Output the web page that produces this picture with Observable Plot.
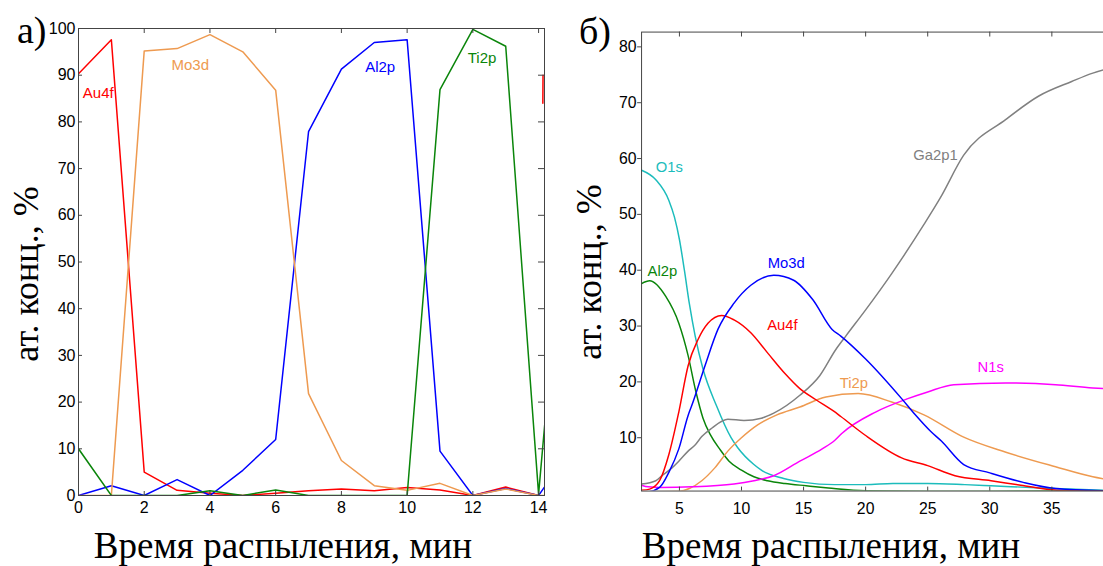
<!DOCTYPE html>
<html>
<head>
<meta charset="utf-8">
<script src="https://cdn.jsdelivr.net/npm/d3@7"></script>
<script src="https://cdn.jsdelivr.net/npm/@observablehq/plot@0.6"></script>
<style>
html, body { margin: 0; padding: 0; background: #fff; }
body { width: 1103px; height: 566px; overflow: hidden; position: relative; }
.abs { position: absolute; }
.serif { font-family: "Liberation Serif", "Times New Roman", serif; color: #000; white-space: nowrap; line-height: 1; }
.ylab { font-size: 36px; transform: translate(-50%, -50%) rotate(-90deg); }
.xlab { font-size: 37px; transform: translateX(-50%); }
.panel { font-size: 38px; }
</style>
</head>
<body>
<div id="pa" class="abs" style="left:0;top:0"></div>
<div id="pb" class="abs" style="left:570px;top:0"></div>
<div class="abs serif panel" style="left:17px;top:11px">а)</div>
<div class="abs serif panel" style="left:579px;top:12px">б)</div>
<div class="abs serif ylab" style="left:26px;top:274px">ат. конц., %</div>
<div class="abs serif ylab" style="left:589px;top:272px">ат. конц., %</div>
<div class="abs serif xlab" style="left:283px;top:527px">Время распыления, мин</div>
<div class="abs serif xlab" style="left:831px;top:527px">Время распыления, мин</div>
<script>
// ---------- Panel а) ----------
const xA = [0,1,2,3,4,5,6,7,8,9,10,11,12,13,14,15];
const au4fA = [90.3,97.6,5.0,1.1,0.5,0,0.5,1.0,1.4,1.0,1.7,1.2,0,1.8,0,null];
const mo3dA = [0,0,95.2,95.7,98.7,95.0,86.8,21.8,7.5,2.1,1.1,2.6,0,1.4,0,0];
const al2pA = [0,2.1,0,3.4,0,5.4,12.0,77.9,91.3,97.0,97.6,9.5,0,1.5,0,10];
const ti2pA = [10,0,0,0,1.0,0,1.2,0,0,0,0,86.9,99.8,96.2,0.3,80];
const au4fTailX = [14.13, 14.135];
const au4fTailY = [84, 90];
const xTicksA = [0,2,4,6,8,10,12,14];
const yTicksA = [0,10,20,30,40,50,60,70,80,90,100];
const labelsA = ["Au4f","Mo3d","Al2p","Ti2p"];
const labelXA = [0.6, 3.4, 9.18, 12.28];
const labelYA = [86.1, 92.1, 91.7, 93.6];
const colorsA = ["#ff0000","#ee9a50","#0000ff","#0a850a"];

// ---------- Panel б) ----------
const o1sX = [1.95,3.1,4.15,4.6,5.0,5.4,5.8,6.27,6.9,7.97,9.16,9.7,11,11.6,13.4,15,17.5,20,22.2,25,28,30.1,34.1,39.2];
const o1sY = [57.9,56.2,52.5,49.5,45.5,40,34,28.2,22.3,15.8,10,8.2,5.2,4.2,2.7,2.0,1.6,1.6,1.8,1.8,1.6,1.4,1.0,0.6];
const al2pBX = [1.95,2.6,3.9,4.95,5.7,6.3,6.9,7.5,8.3,9,10,11,12.1,13.5,15.2,17,20,25,30,35,39.2];
const al2pBY = [37.6,38.1,35.3,30.5,24.7,18.5,13.5,10.5,7.8,5.8,4.2,3.0,2.3,1.8,1.4,1.0,0.5,0.4,0.4,0.5,0.5];
const mo3dBX = [1.95,2.4,3.4,4.15,4.95,5.7,6.0,7.06,8.1,9.4,10.75,12.6,14.2,15.75,17.3,18,20,22.9,24,25.25,26.1,27.9,30,32.7,35.3,39.2];
const mo3dBY = [0.3,0.3,1.1,3.8,8.0,14.0,15.8,22.9,29.4,34.1,37.3,39.1,38.2,34.7,29.4,28.2,24.1,17.0,14.1,11.1,9.4,5.2,3.7,2.0,0.9,0.5];
const au4fBX = [1.95,2.6,3.4,4.15,4.95,5.7,6.5,7.3,8.4,9.4,10.75,12.1,13.5,14.7,16,17.4,18,20,22.9,25,27.2,30.1,32.5,35.4,39.2];
const au4fBY = [0.6,0.8,2.3,7,14.6,22.9,27.6,30.5,31.9,31.1,28.8,25.2,21.5,18.8,16.8,14.8,13.8,10.4,6.4,5.0,3.2,2.3,1.5,0.6,0.5];
const ti2pBX = [1.95,5,5.8,6.8,7.85,8.9,9.95,11.3,12.85,14.7,16.8,19.4,22.1,24.7,27.9,31.3,35.3,38.3,39.2];
const ti2pBY = [0.3,0.4,0.9,2.3,4.6,7.6,9.9,12.3,14.1,15.5,17.3,17.9,16.4,14.1,10.1,7.4,4.8,3.0,2.6];
const n1sX = [1.95,2.5,3.5,6,9.4,11,12.6,14.7,16.5,17.5,18.1,20.8,23.4,25,27.1,31.3,35.3,38.3,39.2];
const n1sY = [1.5,1.2,1.1,1.2,1.7,2.3,3.2,5.8,8.0,9.5,10.8,14.6,17.0,18.2,19.5,19.8,19.5,18.9,18.8];
const ga2p1X = [1.95,3.1,3.6,4.4,4.95,5.7,6.3,6.8,7.6,8.9,10.2,11.6,12.6,14.7,16.3,17.6,18.4,20,22.1,24.7,26,27.9,31.3,33.95,36.6,38.3,39.2];
const ga2p1Y = [1.7,2.3,3.2,4.6,5.8,7.6,8.8,10.2,11.7,13.3,13.1,13.5,14.4,17.6,21.1,25.8,28.2,32.9,39.4,48.2,52.9,60.6,67,71.2,73.8,75.3,75.9];
const xTicksB = [5,10,15,20,25,30,35];
const yTicksB = [10,20,30,40,50,60,70,80];
const labelsB = ["O1s","Al2p","Mo3d","Au4f","Ti2p","N1s","Ga2p1"];
const labelXB = [4.19, 3.63, 13.6, 13.3, 19.06, 30.07, 25.62];
const labelYB = [58.4, 39.9, 41.3, 30.1, 19.8, 22.6, 60.6];
const colorsB = ["#1cbcbc","#0a850a","#0000ff","#ff0000","#ee9a50","#ff00ff","#808080"];

// ---------- build tables ----------
const seriesA = [
  {name: "Au4f", x: xA, y: au4fA},
  {name: "Al2p", x: xA, y: al2pA},
  {name: "Mo3d", x: xA, y: mo3dA},
  {name: "Ti2p", x: xA, y: ti2pA}
];
const colorOfA = {Au4f: colorsA[0], Mo3d: colorsA[1], Al2p: colorsA[2], Ti2p: colorsA[3]};
const rowsA = seriesA.flatMap(s => s.x.map((x, i) => ({name: s.name, x, y: s.y[i]})));
const tailA = au4fTailX.map((x, i) => ({x, y: au4fTailY[i]}));
const labA = labelsA.map((t, i) => ({t, x: labelXA[i], y: labelYA[i], c: colorsA[i]}));

const seriesB = [
  {name: "O1s", x: o1sX, y: o1sY},
  {name: "Al2p", x: al2pBX, y: al2pBY},
  {name: "Ti2p", x: ti2pBX, y: ti2pBY},
  {name: "N1s", x: n1sX, y: n1sY},
  {name: "Ga2p1", x: ga2p1X, y: ga2p1Y},
  {name: "Au4f", x: au4fBX, y: au4fBY},
  {name: "Mo3d", x: mo3dBX, y: mo3dBY}
];
const colorOfB = {};
labelsB.forEach((n, i) => colorOfB[n] = colorsB[i]);
const rowsB = seriesB.flatMap(s => s.x.map((x, i) => ({name: s.name, x, y: s.y[i]})));
const labB = labelsB.map((t, i) => ({t, x: labelXB[i], y: labelYB[i], c: colorsB[i]}));

const axisColor = "#444";
const baseStyle = {fontFamily: "'Liberation Sans', Arial, sans-serif", fontSize: "16px", color: "#000", background: "transparent", overflow: "visible"};

// Panel а)
{
  const W = 560, H = 520, mL = 78, mR = 16, mT = 28, mB = 25;
  const fw = W - mL - mR, fh = H - mT - mB;
  const chart = Plot.plot({
    width: W, height: H, marginLeft: mL, marginRight: mR, marginTop: mT, marginBottom: mB,
    style: baseStyle,
    x: {domain: [0, 14.18], label: null},
    y: {domain: [0, 100], label: null},
    marks: [
      Plot.line(rowsA, {x: "x", y: "y", z: "name", stroke: d => colorOfA[d.name], strokeWidth: 1.5, clip: true}),
      Plot.line(tailA, {x: "x", y: "y", stroke: colorsA[0], strokeWidth: 1.5, clip: true}),
      Plot.text(labA, {x: "x", y: "y", text: "t", fill: "c", fontSize: 15, textAnchor: "middle"}),
      Plot.frame({stroke: axisColor, strokeWidth: 1}),
      Plot.tickX(xTicksA, {x: d => d, insetBottom: fh - 5, stroke: axisColor}),
      Plot.tickX(xTicksA, {x: d => d, insetTop: fh - 4, stroke: axisColor}),
      Plot.tickY(yTicksA, {y: d => d, insetRight: fw - 4, stroke: axisColor}),
      Plot.tickY(yTicksA, {y: d => d, insetLeft: fw - 6, stroke: axisColor}),
      Plot.axisX(xTicksA, {anchor: "bottom", tickSize: 0, tickPadding: 6, label: null, fill: "#000"}),
      Plot.axisY(yTicksA, {anchor: "left", tickSize: 0, tickPadding: 3, label: null, fill: "#000"})
    ]
  });
  document.getElementById("pa").append(chart);
}

// Panel б)
{
  const W = 540, H = 525, mL = 72, mR = 0, mT = 32, mB = 28;
  const fw = W - mL - mR, fh = H - mT - mB;
  const chart = Plot.plot({
    width: W, height: H, marginLeft: mL, marginRight: mR, marginTop: mT, marginBottom: mB,
    style: baseStyle,
    x: {domain: [1.95, 39.16], label: null},
    y: {domain: [0.45, 82.65], label: null},
    marks: [
      Plot.line(rowsB, {x: "x", y: "y", z: "name", stroke: d => colorOfB[d.name], strokeWidth: 1.5, curve: "monotone-x", clip: true}),
      Plot.text(labB, {x: "x", y: "y", text: "t", fill: "c", fontSize: 15, textAnchor: "middle"}),
      Plot.frame({stroke: axisColor, strokeWidth: 1}),
      Plot.tickX(xTicksB, {x: d => d, insetBottom: fh - 5, stroke: axisColor}),
      Plot.tickX(xTicksB, {x: d => d, insetTop: fh - 4, stroke: axisColor}),
      Plot.axisY(yTicksB, {anchor: "left", tickSize: 4, tickPadding: 1, label: null, fill: "#000", stroke: axisColor}),
      Plot.axisX(xTicksB, {anchor: "bottom", tickSize: 0, tickPadding: 12, label: null, fill: "#000"})
    ]
  });
  document.getElementById("pb").append(chart);
}
</script>
</body>
</html>
